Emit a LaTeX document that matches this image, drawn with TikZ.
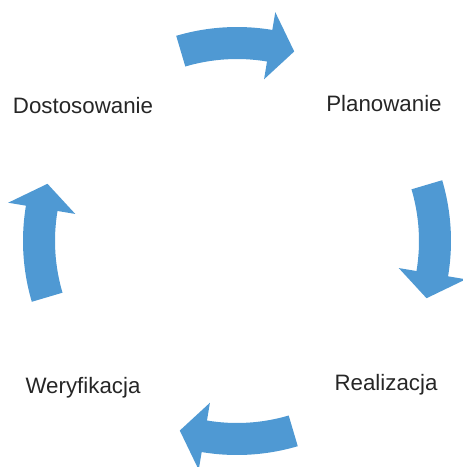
\documentclass[tikz,border=0pt]{standalone}
\usepackage{fontspec}
\setmainfont{Liberation Sans}
\usetikzlibrary{calc}
\definecolor{arrowblue}{RGB}{79,153,211}
\begin{document}
\begin{tikzpicture}[x=1pt,y=1pt,
  label/.style={font=\fontsize{22.3}{26}\selectfont, text=black!85, inner sep=0pt, anchor=base},
  cyclearrow/.style={fill=arrowblue, draw=none}]
\useasboundingbox (0,0) rectangle (463,-467);
\coordinate (C) at (237,-241);
% arrows: tail at t+16.5, head base at t-9.5, tip at t-16.5 (clockwise)
\foreach \t [count=\i] in {90,0,-90,180}{
  \fill[cyclearrow]
    ($(C)+(\t+16.5:214)$) coordinate (a\i)
    arc[start angle=\t+16.5, end angle=\t-9.5, radius=214]
    -- ($(C)+(\t-9.5:232)$)
    -- ($(C)+(\t-16.8:198)$) coordinate (tip\i)
    -- ($(C)+(\t-9.5:164)$)
    -- ($(C)+(\t-9.5:182)$)
    arc[start angle=\t-9.5, end angle=\t+16.5, radius=182]
    -- cycle;
}
\node[label] (plan) at (384,-111.7) {Planowanie};
\node[label] (real) at (386,-390) {Realizacja};
\node[label] (wer) at (83,-393) {Weryfikacja};
\node[label] (dost) at (83,-113.5) {Dostosowanie};
\end{tikzpicture}
\end{document}
